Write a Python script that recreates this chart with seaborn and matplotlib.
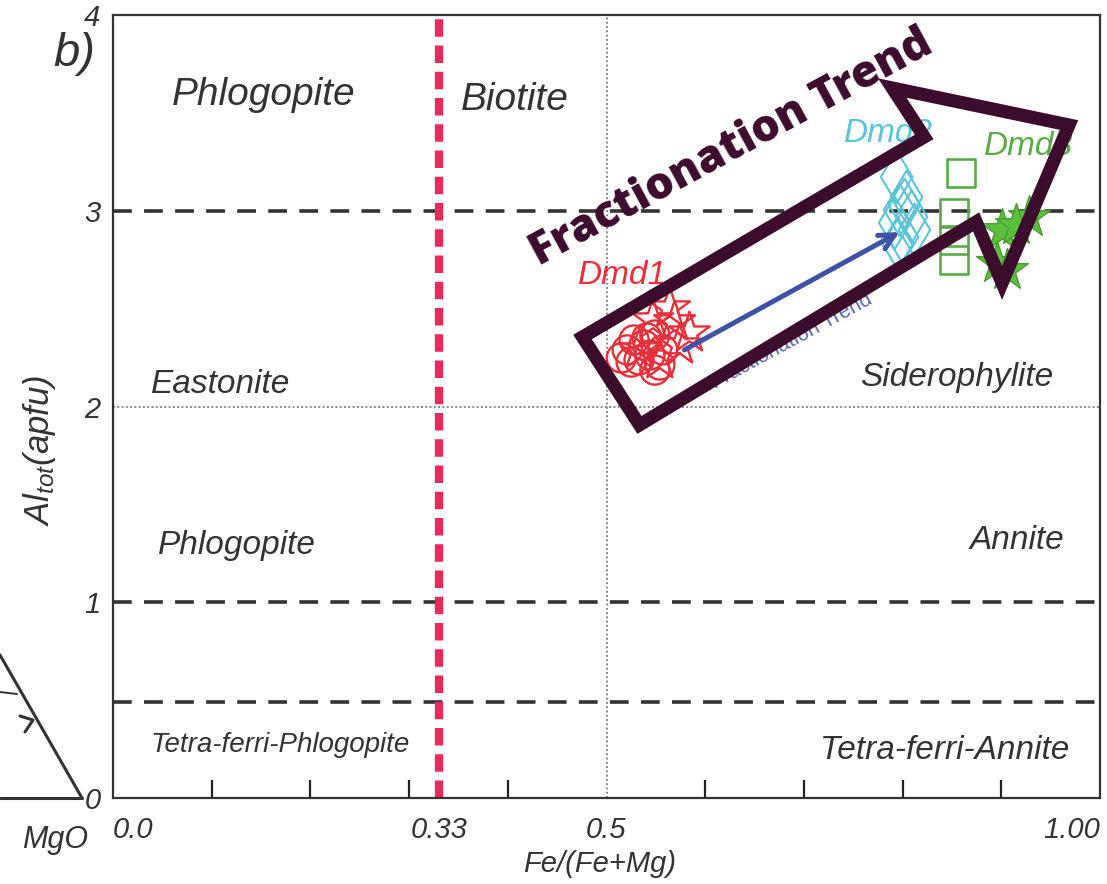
import matplotlib
matplotlib.use('Agg')
import matplotlib.pyplot as plt
import seaborn as sns
import pandas as pd
from matplotlib.patches import Polygon
from matplotlib.lines import Line2D

# ---------------- data ----------------
dmd1_circle_x = [0.521, 0.528, 0.533, 0.538, 0.544, 0.549, 0.554, 0.525, 0.541, 0.557, 0.515, 0.549]
dmd1_circle_y = [2.289, 2.340, 2.238, 2.314, 2.263, 2.365, 2.212, 2.227, 2.350, 2.289, 2.248, 2.186]
dmd1_star_x = [0.564, 0.584, 0.554, 0.569, 0.547, 0.533, 0.574]
dmd1_star_y = [2.503, 2.375, 2.238, 2.432, 2.442, 2.289, 2.314]
dmd2_x = [0.794, 0.804, 0.797, 0.809, 0.792, 0.812, 0.800, 0.795, 0.802]
dmd2_y = [3.172, 3.070, 3.004, 2.969, 2.938, 2.902, 2.866, 2.835, 3.030]
dmd3_sq_x = [0.859, 0.852, 0.852, 0.852]
dmd3_sq_y = [3.193, 2.989, 2.851, 2.748]
dmd3_star_x = [0.928, 0.901, 0.896, 0.906, 0.915]
dmd3_star_y = [2.968, 2.902, 2.733, 2.697, 2.927]

boundary_dashed_y = [3.0, 1.0, 0.49]
boundary_dotted_y = [2.0]
boundary_dotted_x = [0.5]
boundary_fe = 0.33

xtick_vals = [0.0, 0.33, 0.5, 1.0]
xtick_labels = ['0.0', '0.33', '0.5', '1.00']
xminor_vals = [0.1, 0.2, 0.3, 0.4, 0.6, 0.7, 0.8, 0.9]
ytick_vals = [0, 1, 2, 3, 4]
ytick_labels = ['0', '1', '2', '3', '4']

region_names = ['Phlogopite', 'Biotite', 'Eastonite', 'Siderophylite', 'Phlogopite',
                'Annite', 'Tetra-ferri-Phlogopite', 'Tetra-ferri-Annite']
region_x = [0.153, 0.407, 0.109, 0.855, 0.1255, 0.916, 0.169, 0.843]
region_y = [3.591, 3.566, 2.110, 2.146, 1.292, 1.318, 0.271, 0.245]
region_size = [28, 28, 24, 24, 24, 24, 20, 24]

group_names = ['Dmd1', 'Dmd2', 'Dmd3']
group_label_x = [0.516, 0.786, 0.928]
group_label_y = [2.667, 3.397, 3.326]
group_colors = ['#e8303a', '#5cc4d6', '#5aaa48']

trend_arrow_x = [0.579, 0.797]
trend_arrow_y = [2.289, 2.891]

big_arrow_x = [0.4757, 0.8219, 0.7895, 0.9686, 0.9008, 0.8745, 0.5334]
big_arrow_y = [2.355, 3.377, 3.627, 3.438, 2.631, 2.943, 1.906]

# ---------------- style ----------------
sns.set_style('white')
plt.rcParams['font.family'] = ['Liberation Sans', 'DejaVu Sans']
plt.rcParams['mathtext.fontset'] = 'custom'
plt.rcParams['mathtext.it'] = 'Liberation Sans:italic'
plt.rcParams['mathtext.rm'] = 'Liberation Sans:italic'
plt.rcParams['mathtext.default'] = 'it'

TXT = '#333333'
W, H = 1107, 884
fig = plt.figure(figsize=(W / 100, H / 100), dpi=100)
ax = fig.add_axes([113 / W, 86 / H, 987 / W, 783 / H])
ax.set_xlim(0, 1.0)
ax.set_ylim(0, 4.0)

# boundary lines
for yv in boundary_dashed_y:
    ax.axhline(yv, color='#333333', lw=2.6, linestyle=(0, (5.2, 3.4)), zorder=1)
for yv in boundary_dotted_y:
    ax.axhline(yv, color='#888888', lw=1.4, linestyle=(0, (1, 1.2)), zorder=1)
for xv in boundary_dotted_x:
    ax.axvline(xv, color='#888888', lw=1.4, linestyle=(0, (1, 1.2)), zorder=1)
ax.axvline(boundary_fe, color='#e82a5c', lw=6.0, linestyle=(0, (2.1, 1.05)), zorder=1)

# data points
sns.scatterplot(x=dmd1_circle_x, y=dmd1_circle_y, marker='o', s=440, fc='none',
                ec=group_colors[0], linewidth=1.7, ax=ax, zorder=3)
sns.scatterplot(x=dmd1_star_x, y=dmd1_star_y, marker='*', s=950, fc='none',
                ec=group_colors[0], linewidth=1.7, ax=ax, zorder=3)
sns.scatterplot(x=dmd2_x, y=dmd2_y, marker='d', s=720, fc='none',
                ec=group_colors[1], linewidth=1.5, ax=ax, zorder=3)
sns.scatterplot(x=dmd3_sq_x, y=dmd3_sq_y, marker='s', s=400, fc='none',
                ec=group_colors[2], linewidth=1.9, ax=ax, zorder=3)
sns.scatterplot(x=dmd3_star_x, y=dmd3_star_y, marker='*', s=1000, fc='#5cbf3e',
                ec='#4a9a36', linewidth=1.0, ax=ax, zorder=3)

# group labels
for name, gx, gy, c in zip(group_names, group_label_x, group_label_y, group_colors):
    ax.text(gx, gy, name, color=c, fontsize=24, fontstyle='italic',
            ha='center', va='center', zorder=2)

# region labels
for name, rx, ry, fs in zip(region_names, region_x, region_y, region_size):
    ax.text(rx, ry, name, color=TXT, fontsize=fs, fontstyle='italic',
            ha='center', va='center', zorder=2)

# blue trend arrow
ax.annotate('', xy=(trend_arrow_x[1], trend_arrow_y[1]),
            xytext=(trend_arrow_x[0], trend_arrow_y[0]),
            arrowprops=dict(arrowstyle='->,head_length=1.1,head_width=0.55',
                            color='#3f52a6', lw=3.6, shrinkA=0, shrinkB=0),
            zorder=4)
ax.text(0.688, 2.335, 'Fractionation Trend', color='#5a68ae', fontsize=15,
        rotation=28.5, ha='center', va='center', zorder=2)

# big outline arrow
poly = Polygon(list(zip(big_arrow_x, big_arrow_y)), closed=True, fill=False,
               ec='#3b0c2b', lw=9.5, joinstyle='miter', zorder=5)
ax.add_patch(poly)
ax.text(0.6265, 3.321, 'Fractionation Trend', color='#3b0c2b', fontsize=32,
        fontweight='heavy', family=['Open Sans', 'DejaVu Sans'], rotation=28.5,
        ha='center', va='center', zorder=6)

# axes styling
for sp in ax.spines.values():
    sp.set_color('#333333')
    sp.set_linewidth(1.6)
ax.set_xticks(xtick_vals)
ax.set_xticklabels(xtick_labels, fontsize=21, fontstyle='italic', color=TXT)
ax.set_xticks(xminor_vals, minor=True)
ax.tick_params(axis='x', which='major', length=0, pad=13)
ax.tick_params(axis='x', which='minor', direction='in', length=13, width=1.6,
               color='#222222', bottom=True)
labs = ax.get_xticklabels()
labs[0].set_ha('left')
labs[-1].set_ha('right')
ax.set_yticks(ytick_vals)
ax.set_yticklabels(ytick_labels, fontsize=21, fontstyle='italic', color=TXT)
ax.tick_params(axis='y', which='major', length=0, pad=9)

ax.set_xlabel('Fe/(Fe+Mg)', fontsize=21, fontstyle='italic', color=TXT)
ax.xaxis.set_label_coords((600 - 113) / 987, -0.066)
ax.set_ylabel(r'$Al_{tot}$(apfu)', fontsize=25, fontstyle='italic', color=TXT)
ax.yaxis.set_label_coords(-0.056, 0.444)

# panel label
fig.text(74 / W, 1 - 54 / H, 'b)', fontsize=34, fontstyle='italic', color=TXT,
         ha='center', va='center')

# partial ternary diagram at left edge
def fl(xs, ys, **kw):
    fig.add_artist(Line2D([x / W for x in xs], [1 - y / H for y in ys],
                          transform=fig.transFigure, **kw))

fl([0, 82], [655, 798], color='#333333', lw=2.2)
fl([0, 82], [798, 798], color='#333333', lw=2.2)
fl([0, 17], [692, 694], color='#333333', lw=1.4)
fl([20, 33, 25], [716, 720, 732], color='#333333', lw=2.2)
fig.text(55 / W, 1 - 840 / H, 'MgO', fontsize=22, fontstyle='italic', color=TXT,
         ha='center', va='center')

fig.savefig('out.png', dpi=100)
